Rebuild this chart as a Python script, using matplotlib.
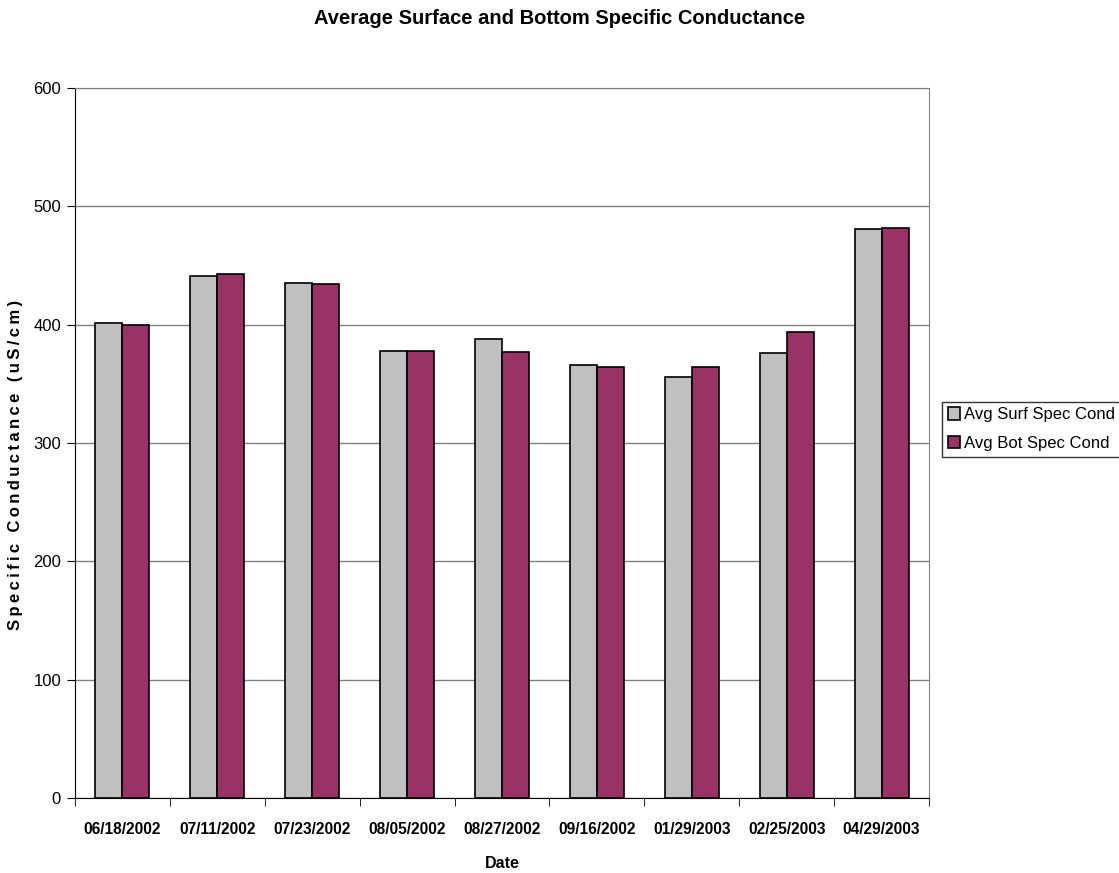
import matplotlib
matplotlib.use("Agg")
import matplotlib.pyplot as plt
import numpy as np

plt.rcParams['font.family'] = ['Liberation Sans', 'DejaVu Sans']

dates = ["06/18/2002", "07/11/2002", "07/23/2002", "08/05/2002", "08/27/2002",
         "09/16/2002", "01/29/2003", "02/25/2003", "04/29/2003"]
surf = [401, 441, 435.5, 378, 388, 365.5, 355.5, 376, 481]
bot = [400, 443, 434, 378, 376.5, 364, 364.5, 394, 482]
yticks = [0, 100, 200, 300, 400, 500, 600]

fig = plt.figure(figsize=(11.19, 8.73), dpi=100)
ax = fig.add_axes([75/1119, 75/873, 854/1119, 710/873])

x = np.arange(len(dates))
w = 0.285
ax.bar(x - w/2, surf, w, color='#C0C0C0', edgecolor='black', linewidth=1.2,
       label='Avg Surf Spec Cond', zorder=3)
ax.bar(x + w/2, bot, w, color='#993366', edgecolor='black', linewidth=1.2,
       label='Avg Bot Spec Cond', zorder=3)

ax.set_xlim(-0.5, len(dates) - 0.5)
ax.set_ylim(0, 600)
ax.set_yticks(yticks)
ax.set_yticklabels([str(v) for v in yticks], fontsize=12)
ax.yaxis.grid(True, color='#808080', linewidth=1, zorder=0)
ax.set_axisbelow(True)

ax.set_xticks(x)
ax.set_xticklabels(dates, fontsize=11.2, fontweight='bold')
ax.tick_params(axis='x', length=0, pad=17)
ax.set_xticks(np.arange(-0.5, len(dates)), minor=True)
ax.tick_params(axis='x', which='minor', length=6, direction='out', color='black')
ax.tick_params(axis='y', length=6, direction='out', color='black', pad=4)

for s in ['top', 'right']:
    ax.spines[s].set_color('#808080')
for s in ['left', 'bottom']:
    ax.spines[s].set_color('black')

ax.set_xlabel('Date', fontsize=11.5, fontweight='bold', labelpad=14)
ylab = '\u2009'.join('Specific Conductance (uS/cm)')
ax.set_ylabel(ylab, fontsize=12, fontweight='bold')
ax.yaxis.set_label_coords((23 - 75) / 854, (798 - 465) / 710)
fig.text(0.5, 1 - 18/873, 'Average Surface and Bottom Specific Conductance',
         ha='center', va='center', fontsize=14.5, fontweight='bold')

leg = ax.legend(loc='center left', bbox_to_anchor=(942/1119, 444/873),
                bbox_transform=fig.transFigure, frameon=True, fancybox=False,
                fontsize=12, handlelength=0.75, handleheight=0.75, handletextpad=0.25,
                borderpad=0.35, labelspacing=0.8, borderaxespad=0)
leg.get_frame().set_edgecolor('black')
leg.get_frame().set_linewidth(1)

fig.savefig('out.png', dpi=100)
